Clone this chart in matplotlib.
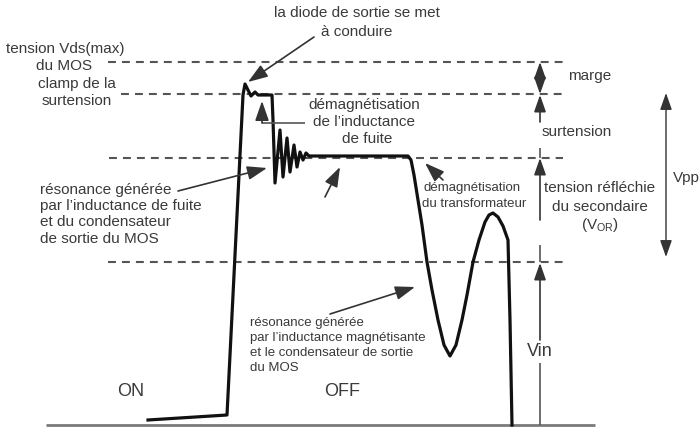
import matplotlib
matplotlib.use("Agg")
import matplotlib.pyplot as plt

plt.rcParams['font.family'] = ['Liberation Sans', 'DejaVu Sans']

# drain waveform, in picture units (x to the right, y downwards)
wave_x = [148, 227, 243, 245, 251, 255, 258, 272, 273, 275, 280, 283, 287, 290, 294,
          297, 300, 303, 306, 309, 408, 411, 414, 418, 422, 427, 432, 438, 444, 450,
          456, 462, 467, 473, 479, 485, 489, 493, 498, 503, 508, 510, 512]
wave_y = [420, 415, 95, 84, 96, 92, 95, 95, 120, 183, 130, 177, 138, 172, 145,
          167, 152, 160, 153, 156, 156, 160, 175, 200, 225, 262, 290, 320, 345, 356,
          345, 320, 295, 262, 240, 222, 215, 213, 217, 226, 240, 320, 425]

# reference levels
level_names = ['Vds(max)', 'clamp', 'VOR', 'Vin']
level_y = [62, 94, 158, 262]
level_x0 = [108, 121, 109, 108]
level_x1 = 563
base_y = 425

fig = plt.figure(figsize=(7, 4.46), dpi=100)
ax = fig.add_axes([0, 0, 1, 1])
ax.set_xlim(0, 700)
ax.set_ylim(446, 0)
ax.axis('off')

txt = '#3a3a3a'
grey = '#333333'

# dashed levels
for x0, y in zip(level_x0, level_y):
    ax.plot([x0, level_x1], [y, y], color='#555555', lw=1.5,
            linestyle=(0, (3.8, 2.9)))

# baseline
ax.plot([46, 595], [base_y, base_y], color='#7a7a7a', lw=2.0, solid_capstyle='butt')

# waveform
ax.plot(wave_x, wave_y, color='#111111', lw=2.3, solid_joinstyle='round')


def arrow(tail, head, lw=1.2, color=grey, hl=1.0, hw=0.35, style='-|>'):
    ax.annotate('', xy=head, xytext=tail, textcoords='data',
                arrowprops=dict(arrowstyle='%s,head_length=%s,head_width=%s' % (style, hl, hw),
                                color=color, lw=lw, shrinkA=0, shrinkB=0,
                                mutation_scale=12))


def seg(x0, y0, x1, y1, lw=1.2, color='#555555'):
    ax.plot([x0, x1], [y0, y1], color=color, lw=lw, solid_capstyle='butt')


# annotation arrows
arrow((314, 37), (248, 82))
seg(305, 123, 262, 123)
arrow((262, 123), (262, 101))
arrow((178, 191), (267, 168))
arrow((325, 197), (340, 167))
arrow((443, 180), (425, 163))
arrow((330, 314), (415, 287))

# dimension arrows on the right
dx = 540
arrow((dx, 62), (dx, 94), style='<|-|>', hl=0.85, hw=0.3)
arrow((dx, 122), (dx, 95), hl=0.85, hw=0.3)
seg(dx, 148, dx, 158)
arrow((dx, 220), (dx, 158), hl=0.85, hw=0.3)
seg(dx, 245, dx, 262)
arrow((dx, 340), (dx, 263), hl=0.85, hw=0.3)
seg(dx, 363, dx, base_y)
arrow((666, 93), (666, 257), style='<|-|>', lw=1.0, hl=0.85, hw=0.3)

# texts: (x, y, text, size, ha)
labels = [
    (357, 13, 'la diode de sortie se met', 11, 'center'),
    (357, 32, 'à conduire', 11, 'center'),
    (65, 49, 'tension Vds(max)', 11, 'center'),
    (64, 66, 'du MOS', 11, 'center'),
    (77, 84, 'clamp de la', 11, 'center'),
    (77, 101, 'surtension', 11, 'center'),
    (364, 105, 'démagnétisation', 11, 'center'),
    (364, 122, 'de l’inductance', 11, 'center'),
    (367, 139, 'de fuite', 11, 'center'),
    (40, 190, 'résonance générée', 11, 'left'),
    (40, 206, 'par l’inductance de fuite', 11, 'left'),
    (40, 222, 'et du condensateur', 11, 'left'),
    (40, 239, 'de sortie du MOS', 11, 'left'),
    (423, 188, 'démagnétisation', 9.5, 'left'),
    (422, 204, 'du transformateur', 9.5, 'left'),
    (600, 188, 'tension réfléchie', 11, 'center'),
    (600, 207, 'du secondaire', 11, 'center'),
    (600, 225, r'(V$_{\mathregular{OR}}$)', 11, 'center'),
    (590, 76, 'marge', 11, 'center'),
    (577, 132, 'surtension', 11, 'center'),
    (673, 178, 'Vpp', 11, 'left'),
    (540, 352, 'Vin', 13, 'center'),
    (131, 392, 'ON', 13, 'center'),
    (342, 392, 'OFF', 13, 'center'),
    (250, 323, 'résonance générée', 9.5, 'left'),
    (250, 338, 'par l’inductance magnétisante', 9.5, 'left'),
    (250, 353, 'et le condensateur de sortie', 9.5, 'left'),
    (250, 368, 'du MOS', 9.5, 'left'),
]
for x, y, s, size, ha in labels:
    ax.text(x, y, s, fontsize=size, ha=ha, va='center', color=txt)

fig.savefig('out.png', dpi=100, facecolor='white')
